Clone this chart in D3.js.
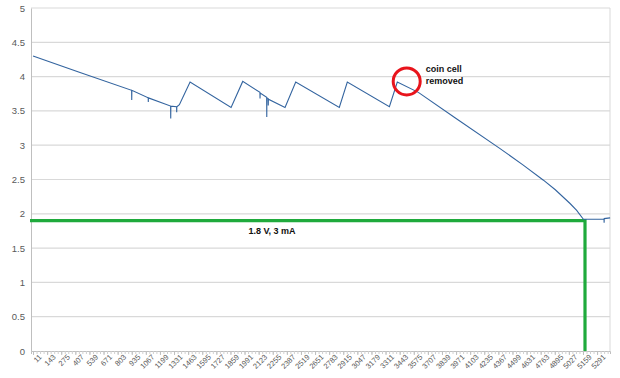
<!DOCTYPE html>
<html>
<head>
<meta charset="utf-8">
<script src="https://cdn.jsdelivr.net/npm/d3@7"></script>
<style>
  body { margin: 0; background: #fff; }
  text { font-family: "Liberation Sans", Arial, sans-serif; }
</style>
</head>
<body>
<div id="chart"></div>
<script>
const sampleIdx = [11, 451, 934, 935, 936, 1089, 1090, 1091, 1299, 1300, 1301, 1355, 1356, 1357, 1381,
    1481, 1865, 1974, 2135, 2136, 2137, 2198, 2199, 2200, 2212, 2213, 2214, 2370, 2470, 2878, 2953,
    3347, 3421, 3618, 3961, 4383, 4600, 4789, 4900, 5038, 5100, 5163, 5242, 5356, 5357, 5358, 5413];
const voltage = [4.30, 4.06, 3.80, 3.66, 3.80, 3.69, 3.63, 3.69, 3.57, 3.39, 3.57, 3.56, 3.48, 3.56, 3.59,
    3.92, 3.55, 3.93, 3.77, 3.68, 3.76, 3.70, 3.41, 3.69, 3.68, 3.58, 3.67, 3.55, 3.92, 3.55, 3.92,
    3.56, 3.92, 3.77, 3.40, 2.95, 2.71, 2.49, 2.35, 2.15, 2.05, 1.92, 1.92, 1.92, 1.87, 1.93, 1.94];

// x-axis tick labels (every 132 samples)
const xTickLabels = [11, 143, 275, 407, 539, 671, 803, 935, 1067, 1199, 1331, 1463, 1595, 1727, 1859,
    1991, 2123, 2255, 2387, 2519, 2651, 2783, 2915, 3047, 3179, 3311, 3443, 3575, 3707, 3839, 3971,
    4103, 4235, 4367, 4499, 4631, 4763, 4895, 5027, 5159, 5291];
const yTicks = [0, 0.5, 1, 1.5, 2, 2.5, 3, 3.5, 4, 4.5, 5];

// Annotations
const cutoffVoltage = 1.9;
const cutoffSample = 5178;
const cutoffLabel = "1.8 V, 3 mA";
const removedPoint = { x: 3509, v: 3.93 };
const removedLabel = ["coin cell", "removed"];

const width = 620, height = 378;
const plot = { left: 31, right: 610, top: 8, bottom: 351 };

const svg = d3.select("#chart").append("svg")
    .attr("width", width)
    .attr("height", height);

const x = d3.scaleLinear().domain([-8, 5412]).range([plot.left, plot.right]);
const y = d3.scaleLinear().domain([0, 5]).range([plot.bottom, plot.top]);

// Horizontal gridlines
svg.append("g")
    .selectAll("line")
    .data(yTicks.filter(d => d > 0))
    .join("line")
    .attr("x1", plot.left).attr("x2", plot.right)
    .attr("y1", d => y(d)).attr("y2", d => y(d))
    .attr("stroke", "#d9d9d9")
    .attr("stroke-width", 1.2);

// Right border
svg.append("line")
    .attr("x1", plot.right).attr("x2", plot.right)
    .attr("y1", plot.top).attr("y2", plot.bottom)
    .attr("stroke", "#d9d9d9");

// Y axis
const yAxis = svg.append("g")
    .attr("transform", `translate(${plot.left},0)`)
    .call(d3.axisLeft(y).tickValues(yTicks).tickSize(0).tickPadding(6).tickFormat(d3.format("")));
yAxis.select(".domain").attr("stroke", "#bfbfbf");
yAxis.selectAll("text")
    .attr("font-size", "9.5px")
    .attr("fill", "#595959")
    .style("font-family", "Liberation Sans, Arial, sans-serif");

// X axis: minor ticks then labelled ticks
const minorTicks = d3.range(11, 5412, 33);
const xAxisMinor = svg.append("g")
    .attr("transform", `translate(0,${plot.bottom})`)
    .call(d3.axisBottom(x).tickValues(minorTicks).tickSize(3).tickFormat(""));
xAxisMinor.select(".domain").attr("stroke", "#bfbfbf");
xAxisMinor.selectAll(".tick line").attr("stroke", "#d0d0d0");

const xAxis = svg.append("g")
    .attr("transform", `translate(0,${plot.bottom})`)
    .call(d3.axisBottom(x).tickValues(xTickLabels).tickSize(4).tickPadding(3).tickFormat(d3.format("")));
xAxis.select(".domain").remove();
xAxis.selectAll(".tick line").attr("stroke", "#bfbfbf");
xAxis.selectAll("text")
    .attr("font-size", "7.5px")
    .attr("fill", "#595959")
    .style("font-family", "Liberation Sans, Arial, sans-serif")
    .attr("text-anchor", "end")
    .attr("dx", "0.2em")
    .attr("dy", "0.5em")
    .attr("transform", "rotate(-45)");

// Cutoff lines (green)
svg.append("line")
    .attr("x1", plot.left - 1).attr("x2", x(cutoffSample))
    .attr("y1", y(cutoffVoltage)).attr("y2", y(cutoffVoltage))
    .attr("stroke", "#1faa3c")
    .attr("stroke-width", 3.2);
svg.append("line")
    .attr("x1", x(cutoffSample)).attr("x2", x(cutoffSample))
    .attr("y1", y(cutoffVoltage) - 1.6).attr("y2", plot.bottom)
    .attr("stroke", "#1faa3c")
    .attr("stroke-width", 3.2);

svg.append("text")
    .attr("x", 272)
    .attr("y", y(cutoffVoltage) + 13)
    .attr("text-anchor", "middle")
    .attr("font-size", "9px")
    .attr("font-weight", "bold")
    .attr("fill", "#111")
    .text(cutoffLabel);

// Voltage line
const points = sampleIdx.map((s, i) => [s, voltage[i]]);
svg.append("path")
    .datum(points)
    .attr("fill", "none")
    .attr("stroke", "#33649f")
    .attr("stroke-width", 1.1)
    .attr("d", d3.line().x(d => x(d[0])).y(d => y(d[1])));

// Coin cell removed marker
svg.append("circle")
    .attr("cx", x(removedPoint.x))
    .attr("cy", y(removedPoint.v))
    .attr("r", 13.5)
    .attr("fill", "none")
    .attr("stroke", "#e8141c")
    .attr("stroke-width", 3);

svg.append("text")
    .attr("x", x(removedPoint.x) + 19)
    .attr("y", y(removedPoint.v) - 9)
    .attr("font-size", "9px")
    .attr("font-weight", "bold")
    .attr("fill", "#111")
    .selectAll("tspan")
    .data(removedLabel)
    .join("tspan")
    .attr("x", x(removedPoint.x) + 19)
    .attr("dy", (d, i) => i === 0 ? 0 : 12)
    .text(d => d);
</script>
</body>
</html>
